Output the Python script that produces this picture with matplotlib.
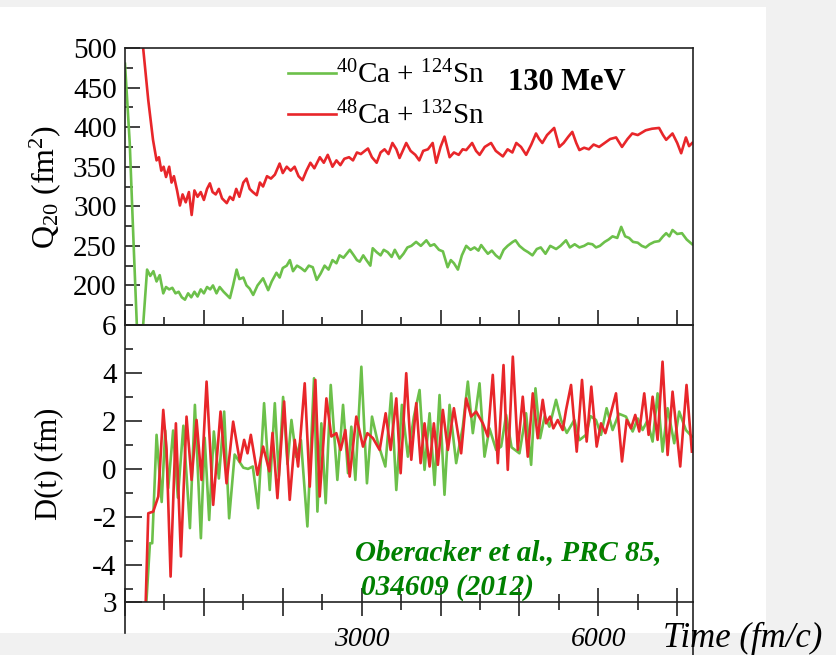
import matplotlib
matplotlib.use("Agg")
import matplotlib.pyplot as plt
from matplotlib.patches import Rectangle
from matplotlib.ticker import MultipleLocator, FixedLocator

# --- data (time in fm/c) ---
# quadrupole moment Q20 (fm^2), 40Ca + 124Sn
t_q40 = [0, 60, 110, 150, 175, 230, 280, 320, 360, 400, 440, 485, 520, 560, 600,
         640, 680, 720, 760, 800, 840, 880, 920, 960, 1000, 1040, 1080, 1115, 1160,
         1200, 1250, 1290, 1330, 1370, 1415, 1450, 1500, 1540, 1580, 1625, 1680,
         1750, 1815, 1860, 1920, 1960, 2000, 2050, 2090, 2130, 2180, 2230, 2280,
         2330, 2380, 2430, 2480, 2530, 2580, 2630, 2680, 2720, 2770, 2810, 2850,
         2900, 2940, 2975, 3020, 3060, 3110, 3140, 3190, 3240, 3280, 3330, 3380,
         3420, 3480, 3530, 3580, 3630, 3690, 3750, 3820, 3870, 3920, 3980, 4030,
         4090, 4130, 4170, 4220, 4270, 4325, 4380, 4430, 4480, 4515, 4560, 4600,
         4650, 4700, 4750, 4800, 4850, 4915, 4950, 5000, 5060, 5110, 5165, 5220,
         5270, 5330, 5390, 5465, 5520, 5590, 5640, 5700, 5760, 5820, 5870, 5925,
         5970, 6020, 6080, 6130, 6180, 6240, 6290, 6340, 6390, 6440, 6500, 6550,
         6600, 6650, 6710, 6770, 6820, 6860, 6900, 6940, 7000, 7060, 7120, 7190]
q40 = [480, 380, 250, 150, 120, 150, 220, 212, 218, 205, 213, 190, 198, 195, 197,
       190, 192, 185, 182, 190, 185, 192, 186, 195, 190, 198, 195, 200, 190,
       198, 192, 188, 184, 200, 220, 208, 210, 200, 196, 188, 200,
       209, 194, 205, 216, 210, 222, 225, 232, 218, 225, 222, 218,
       225, 223, 207, 215, 225, 220, 232, 228, 238, 235, 240, 245,
       238, 232, 230, 238, 232, 225, 247, 242, 238, 245, 242, 236,
       245, 234, 240, 248, 250, 255, 250, 257, 250, 252, 245, 243,
       223, 232, 228, 220, 238, 250, 245, 248, 244, 251, 245, 240,
       244, 238, 234, 245, 250, 255, 257, 250, 245, 242, 238, 246,
       248, 240, 250, 246, 250, 257, 248, 252, 248, 250, 253, 252,
       248, 250, 255, 258, 262, 260, 274, 262, 260, 255, 254, 250,
       248, 252, 255, 256, 262, 266, 262, 270, 265, 266, 258, 252]

# quadrupole moment Q20 (fm^2), 48Ca + 132Sn
t_q48 = [200, 230, 295, 355, 400, 430, 460, 490, 520, 560, 590, 620, 660, 696, 730,
         770, 810, 845, 880, 920, 960, 1000, 1040, 1076, 1110, 1150, 1190, 1230,
         1290, 1330, 1370, 1410, 1450, 1500, 1540, 1580, 1620, 1670, 1710, 1750,
         1800, 1850, 1900, 1960, 2000, 2050, 2100, 2150, 2200, 2250, 2300, 2350,
         2400, 2470, 2520, 2570, 2630, 2680, 2730, 2780, 2840, 2890, 2940, 2990,
         3040, 3080, 3130, 3190, 3240, 3290, 3340, 3390, 3440, 3480, 3530, 3565,
         3620, 3680, 3730, 3780, 3840, 3900, 3945, 4000, 4050, 4115, 4170, 4230,
         4280, 4325, 4400, 4450, 4495, 4560, 4640, 4700, 4790, 4850, 4910, 4960,
         5020, 5085, 5150, 5210, 5250, 5290, 5350, 5440, 5505, 5560, 5620, 5670,
         5720, 5760, 5820, 5880, 5940, 6010, 6080, 6150, 6225, 6300, 6370, 6430,
         6500, 6600, 6680, 6770, 6820, 6860, 6940, 7000, 7050, 7110, 7150, 7190]
q48 = [560, 500, 434, 384, 358, 362, 345, 350, 337, 350, 330, 338, 320, 301, 315,
       305, 318, 289, 320, 312, 318, 308, 322, 329, 318, 315, 322, 310,
       304, 312, 308, 322, 312, 330, 335, 322, 318, 314, 330, 325,
       338, 335, 340, 354, 342, 350, 345, 350, 338, 333, 345, 355,
       348, 362, 355, 365, 350, 358, 352, 360, 362, 358, 368, 366,
       370, 373, 362, 355, 368, 372, 366, 380, 372, 361, 372, 380,
       370, 365, 358, 370, 372, 380, 355, 375, 388, 362, 368, 365,
       372, 371, 380, 370, 365, 375, 380, 370, 363, 372, 368, 380,
       375, 365, 378, 392, 385, 380, 390, 399, 375, 380, 388, 394,
       380, 371, 374, 372, 378, 375, 380, 385, 387, 375, 385, 392,
       390, 396, 398, 399, 390, 384, 392, 380, 367, 387, 376, 380]

# dipole moment D(t) (fm), 40Ca + 124Sn
t_d40 = [270, 316, 345, 400, 465, 510, 548, 610, 670, 740, 823, 886, 962, 1010,
         1067, 1126, 1190, 1257, 1320, 1390, 1450, 1500, 1560, 1620, 1688, 1763,
         1835, 1899, 1950, 2004, 2060, 2110, 2170, 2230, 2312, 2396, 2439, 2489,
         2544, 2608, 2692, 2764, 2827, 2869, 2920, 2996, 3067, 3131, 3207, 3300,
         3375, 3439, 3510, 3586, 3662, 3734, 3797, 3861, 3924, 3987, 4050, 4114,
         4198, 4282, 4346, 4409, 4494, 4557, 4620, 4705, 4768, 4831, 4900, 5000,
         5084, 5148, 5203, 5262, 5320, 5380, 5464, 5527, 5600, 5696, 5760, 5844,
         5900, 5970, 6034, 6105, 6181, 6260, 6350, 6435, 6500, 6561, 6620, 6688,
         6751, 6814, 6878, 6962, 7025, 7110, 7186]
d40 = [-5.6, -3.1, -3.1, 1.42, -1.38, 1.6, -0.8, 1.6, -1.2, 1.8, -2.47, 2.67, -2.89, 1.3,
       -2.13, 1.56, -0.4, 2.39, -2.06, 0.6, 0.3, 0.05, 0.0, 0.1, -1.64, 2.74,
       -0.88, 2.74, -0.3, 3.0, 0.2, 2.04, 0.5, 1.2, -2.4, 3.78, -1.78, 1.9,
       -1.43, 3.5, -0.46, 2.67, -0.18, 1.76, -0.46, 4.26, -0.6, 2.18, 1.07, 0.1,
       3.15, -0.88, 2.67, 0.51, 2.18, 3.29, -0.04, 2.32, -0.67, 3.08, -1.08, 2.67,
       0.24, 1.76, 3.64, 1.49, 3.57, 0.51, 1.69, 0.79, 0.93, 2.25, 0.9, 0.65,
       2.32, 0.17, 3.36, 1.28, 2.2, 1.76, 2.88, 2.04, 1.5, 2.04, 1.2, 1.42,
       2.2, 2.04, 1.42, 2.53, 1.62, 2.3, 2.18, 1.56, 2.1, 1.62, 2.0, 1.14,
       3.15, 0.72, 2.53, 1.07, 2.39, 1.62, 1.35]

# dipole moment D(t) (fm), 48Ca + 132Sn
t_d48 = [262, 295, 358, 422, 485, 527, 578, 645, 709, 780, 844, 907, 970, 1034,
         1118, 1211, 1287, 1371, 1456, 1510, 1553, 1595, 1679, 1751, 1830, 1870,
         1932, 2017, 2088, 2152, 2194, 2278, 2342, 2413, 2468, 2553, 2616, 2679,
         2734, 2793, 2848, 2932, 3017, 3072, 3143, 3228, 3304, 3367, 3439, 3494,
         3565, 3629, 3692, 3747, 3797, 3861, 3915, 3966, 4029, 4093, 4169, 4261,
         4325, 4388, 4451, 4536, 4599, 4662, 4726, 4798, 4852, 4916, 4979, 5042,
         5106, 5169, 5232, 5295, 5338, 5388, 5430, 5485, 5549, 5591, 5654, 5726,
         5793, 5852, 5911, 5979, 6034, 6089, 6148, 6224, 6300, 6359, 6414, 6468,
         6519, 6582, 6637, 6688, 6751, 6814, 6878, 6941, 7038, 7118, 7186]
d48 = [-5.6, -1.85, -1.78, -1.15, 2.46, 0.79, -4.49, 1.9, -3.65, 2.18, -0.46, 2.04, -0.46, 3.64,
       -1.5, 2.39, -0.6, 1.97, 0.3, 1.21, 0.65, 1.42, -0.25, 0.93, -0.1, 1.5,
       -1.22, 2.81, -1.29, 1.21, 0.1, 3.57, -0.74, 3.71, -1.15, 2.94, 1.35, 1.49,
       0.79, 1.62, -0.32, 2.18, 0.93, 1.49, 1.28, 0.79, 2.32, 0.79, 2.94, -0.18,
       3.99, 0.38, 2.74, 0.24, 1.9, 0.1, 1.9, 0.17, 2.46, 0.79, 2.53, 0.65,
       2.94, 2.18, 2.39, 1.9, 1.35, 3.92, 0.24, 4.33, -0.04, 4.68, 0.79, 3.01,
       0.51, 3.15, 1.28, 2.88, 1.9, 2.18, 1.69, 2.04, 1.62, 2.46, 3.5, 0.72,
       3.71, 1.14, 3.43, 0.93, 1.9, 1.49, 2.18, 3.15, 0.31, 2.04, 1.69, 2.25,
       1.56, 3.15, 1.42, 3.01, 1.21, 4.47, 0.58, 3.22, 0.1, 3.5, 0.72]

lab40 = r'$^{40}$Ca + $^{124}$Sn'
lab48 = r'$^{48}$Ca + $^{132}$Sn'

GREEN = '#6cc04a'
RED = '#e8262a'
INK = '#222222'
LW = 1.9

plt.rcParams['font.family'] = ['Liberation Serif', 'DejaVu Serif']
plt.rcParams['mathtext.fontset'] = 'custom'
plt.rcParams['mathtext.rm'] = 'Liberation Serif'
plt.rcParams['mathtext.it'] = 'Liberation Serif:italic'

fig = plt.figure(figsize=(8.37, 6.55), dpi=100, facecolor='#f1f1f1')
# white page area of the screenshot
fig.patches.append(Rectangle((0, 22 / 655), 766 / 837, 626 / 655,
                             transform=fig.transFigure, facecolor='white',
                             edgecolor='none', zorder=-10))

W = 568 / 837
H = 277 / 655
L = 125 / 837
ax1 = fig.add_axes([L, 1 - 325 / 655, W, H])
ax2 = fig.add_axes([L, 1 - 602 / 655, W, H])

for ax in (ax1, ax2):
    ax.set_xlim(0, 7200)
    for s in ax.spines.values():
        s.set_linewidth(1.2)
        s.set_color(INK)
    ax.patch.set_alpha(0)
    ax.xaxis.set_major_locator(MultipleLocator(1000))
    ax.xaxis.set_minor_locator(MultipleLocator(500))

# ---- top panel: Q20 ----
ax1.plot(t_q40, q40, color=GREEN, lw=LW, label=lab40)
ax1.plot(t_q48, q48, color=RED, lw=LW, label=lab48)
ax1.set_ylim(150, 500)
ax1.yaxis.set_major_locator(FixedLocator([150, 200, 250, 300, 350, 400, 450, 500]))
ax1.set_yticklabels(['', '200', '250', '300', '350', '400', '450', '500'])
ax1.yaxis.set_minor_locator(MultipleLocator(50, offset=25))
ax1.tick_params(axis='both', which='both', direction='in', right=False, top=False,
                labelsize=21, width=1.2, color=INK)
ax1.tick_params(which='major', length=11)
ax1.tick_params(which='minor', length=6)
ax1.tick_params(axis='x', labelbottom=False)
ax1.tick_params(axis='y', pad=6)
ax1.set_ylabel(r'Q$_{20}$ (fm$^2$)', fontsize=23)
ax1.yaxis.set_label_coords(-0.11, 0.5)

ax1.legend(loc='upper left', bbox_to_anchor=(0.287, 0.955), frameon=False,
           fontsize=21, handlelength=1.65, handletextpad=0.0, borderpad=0,
           borderaxespad=0, labelspacing=0.45)
ax1.text(0.674, 0.874, '130 MeV', transform=ax1.transAxes, fontsize=22,
         fontweight='bold', ha='left', va='center')

# ---- bottom panel: D(t) ----
ax2.plot(t_d40, d40, color=GREEN, lw=LW)
ax2.plot(t_d48, d48, color=RED, lw=LW)
ax2.set_ylim(-5.55, 6)
ax2.yaxis.set_major_locator(FixedLocator([-5.55, -4, -2, 0, 2, 4, 6]))
ax2.set_yticklabels(['3', '-4', '-2', '0', '2', '4', '6'])
ax2.yaxis.set_minor_locator(MultipleLocator(2, offset=1))
ax2.tick_params(axis='y', which='both', direction='in', right=False,
                labelsize=21, width=1.2, color=INK, pad=6)
ax2.tick_params(axis='y', which='major', length=12)
ax2.tick_params(axis='y', which='minor', length=6)
ax2.set_xticks(list(range(0, 8000, 1000)))
ax2.set_xticklabels(['', '', '', '3000', '', '', '6000', ''], fontstyle='italic')
ax2.tick_params(axis='x', which='both', direction='inout', top=False,
                labelsize=20, width=1.2, color=INK)
ax2.tick_params(axis='x', which='major', length=20, pad=8)
ax2.tick_params(axis='x', which='minor', length=11)
ax2.set_ylabel('D(t) (fm)', fontsize=22)
ax2.yaxis.set_label_coords(-0.109, 0.5)

# spines run on past the bottom of the frame
ax2.plot([0, 0], [0, -0.112], transform=ax2.transAxes, color=INK, lw=1.2,
         clip_on=False)
ax2.plot([1, 1], [0, -0.19], transform=ax2.transAxes, color=INK, lw=1.2,
         clip_on=False)

ax2.text(0.947, -0.13, 'Time (fm/c)', transform=ax2.transAxes, fontsize=25,
         fontstyle='italic', ha='left', va='center', zorder=5)

ax2.text(0.405, 0.18, 'Oberacker et al., PRC 85,', transform=ax2.transAxes,
         fontsize=21, fontweight='bold', fontstyle='italic', color='#008000',
         ha='left', va='center')
ax2.text(0.415, 0.052, '034609 (2012)', transform=ax2.transAxes,
         fontsize=21, fontweight='bold', fontstyle='italic', color='#008000',
         ha='left', va='center')

fig.savefig('out.png', dpi=100, facecolor=fig.get_facecolor())
